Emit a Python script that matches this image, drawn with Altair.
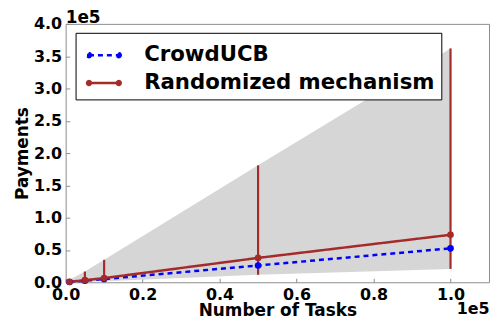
import math
import altair as alt
import pandas as pd

# ---- data ----
tasks = [1000, 5000, 10000, 50000, 100000]
crowducb = [400, 2300, 5000, 26000, 52500]
randomized = [700, 3200, 6500, 37700, 73500]
rand_low = [0, 600, 1500, 11600, 20700]
rand_high = [4000, 16600, 34700, 181000, 362000]
series_names = ["CrowdUCB", "Randomized mechanism"]
series_colors = ["#0000ff", "#a52a2a"]
x_ticks = [0, 20000, 40000, 60000, 80000, 100000]
y_ticks = [0, 50000, 100000, 150000, 200000, 250000, 300000, 350000, 400000]

band_df = pd.DataFrame({"tasks": tasks, "low": rand_low, "high": rand_high})
long_df = pd.DataFrame({
    "tasks": tasks + tasks,
    "payment": crowducb + randomized,
    "series": [series_names[0]] * len(tasks) + [series_names[1]] * len(tasks),
})

FONT = "DejaVu Sans"
GRAY = "#8c8c8c"
PAD = "\u200b" + "\u00a0" * 8

xscale = alt.Scale(domain=[0, 110000], nice=False, zero=False)
yscale = alt.Scale(domain=[0, 400000], nice=False, zero=False)
color_scale = alt.Scale(domain=series_names, range=series_colors)
dash_scale = alt.Scale(domain=series_names, range=[[5, 4], [1, 0]])

x_lbl = ("datum.value == 100000 ? ['1.0', '" + PAD + "1e5'] : "
         "format(datum.value / 100000, '.1f')")
y_lbl = "format(datum.value / 100000, '.1f')"

bottom_axis = alt.Axis(
    values=x_ticks, labelExpr=x_lbl, title="Number of Tasks", offset=-4, tickSize=4,
    domain=False, grid=False, tickColor=GRAY, labelFlush=False, labelPadding=4,
    labelFont=FONT, labelFontSize=16, labelFontWeight="bold", labelColor="black",
    labelLineHeight=14,
    titleFont=FONT, titleFontSize=17, titleFontWeight="bold", titleColor="black",
    titleBaseline="alphabetic", titleY=37,
)
left_axis = alt.Axis(
    values=y_ticks, labelExpr=y_lbl, title="Payments", offset=-4, tickSize=4,
    domain=False, grid=False, tickColor=GRAY, labelFlush=False, labelPadding=4,
    labelFont=FONT, labelFontSize=16, labelFontWeight="bold", labelColor="black",
    titleFont=FONT, titleFontSize=17, titleFontWeight="bold", titleColor="black",
    titlePadding=2,
)


def ring(cx, r, n=12):
    pts = [(cx + r * math.cos(2 * math.pi * k / n), r * math.sin(2 * math.pi * k / n))
           for k in range(n)]
    return "M" + "L".join(f"{x:.3f},{y:.3f}" for x, y in pts) + "Z"


sym_path = "M-1,0L1,0" + "".join(ring(c, r) for c in (-1, 1) for r in (0.05, 0.13))

legend = alt.Legend(
    title=None, orient="none", legendX=10, legendY=9, symbolType=sym_path,
    symbolSize=900, symbolStrokeWidth=2.5, symbolOffset=6, labelOffset=24,
    labelFont=FONT, labelFontSize=21.4, labelFontWeight="bold", labelColor="black",
    labelLimit=500, strokeColor="black", fillColor="white", padding=6, rowPadding=1,
)

X = alt.X("tasks:Q", scale=xscale, axis=bottom_axis)
Y_low = alt.Y("low:Q", scale=yscale, axis=left_axis)

band = alt.Chart(band_df).mark_area(color="#d6d6d6", opacity=1).encode(
    x=X, y=Y_low, y2="high:Q",
)

errbars = alt.Chart(band_df).mark_rule(color="#a52a2a", strokeWidth=2.2).encode(
    x=X, y=Y_low, y2="high:Q",
)

lines = alt.Chart(long_df).mark_line(strokeWidth=2.5).encode(
    x=X,
    y=alt.Y("payment:Q", scale=yscale, axis=left_axis),
    color=alt.Color("series:N", scale=color_scale, legend=legend),
    strokeDash=alt.StrokeDash("series:N", scale=dash_scale, legend=legend),
)

points = alt.Chart(long_df).mark_circle(size=45, opacity=1).encode(
    x=X,
    y=alt.Y("payment:Q", scale=yscale, axis=left_axis),
    color=alt.Color("series:N", scale=color_scale, legend=legend),
)

chart = alt.layer(band, errbars, lines, points).properties(
    width=426, height=260,
    title=alt.TitleParams("1e5", anchor="start", frame="group", offset=-11.5,
                          font=FONT, fontSize=17, fontWeight="bold", color="black"),
    padding={"left": 5, "top": 0, "right": 0, "bottom": 0},
).configure(font=FONT).configure_view(stroke=GRAY, strokeWidth=1)

chart.save("out.html", embed_options={"renderer": "svg", "actions": False})
